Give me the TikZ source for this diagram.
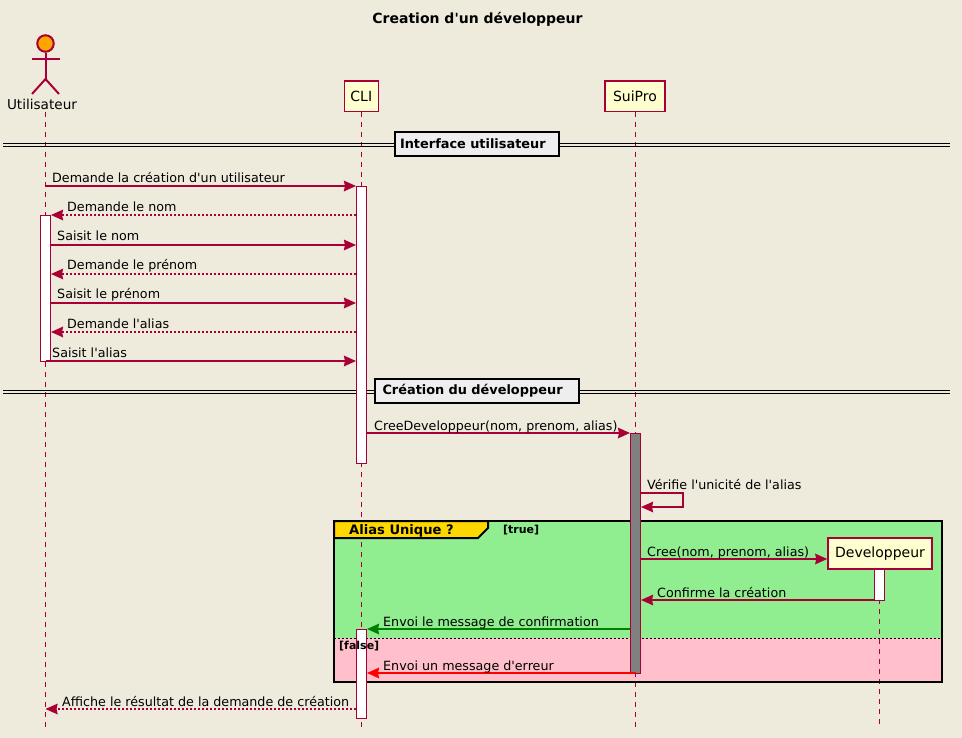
\documentclass[tikz,border=0pt]{standalone}
\usepackage{fontspec}
\setmainfont{DejaVu Sans}
\usetikzlibrary{arrows.meta}
\definecolor{bgc}{HTML}{EEEBDC}
\definecolor{umlred}{HTML}{A80036}
\definecolor{notec}{HTML}{FEFECE}
\definecolor{grpgreen}{HTML}{90EE90}
\definecolor{grppink}{HTML}{FFC0CB}
\definecolor{gold}{HTML}{FFD700}
\definecolor{divfill}{HTML}{EEEEEE}
\definecolor{actorfill}{HTML}{FFA500}
\definecolor{greenmsg}{HTML}{008000}
\tikzset{
  tip/.tip={Stealth[length=12pt,width=10.5pt,inset=1pt]},
  partic/.style={draw=umlred,fill=notec,line width=1.5pt,inner sep=0pt,font=\fontsize{14}{16}\selectfont,text=black},
  lifeline/.style={draw=umlred,line width=1pt,dash pattern=on 5pt off 5pt},
  bar/.style={draw=umlred,fill=white,line width=1pt},
  graybar/.style={draw=umlred,fill=gray,line width=1pt},
  msg/.style={draw=umlred,line width=2pt,-tip},
  back/.style={draw=umlred,line width=2pt,dash pattern=on 2pt off 2pt,-tip},
  lbl/.style={anchor=base west,inner sep=0pt,yshift=-1pt,font=\fontsize{12.7}{14}\selectfont,text=black},
  divbox/.style={draw=black,fill=divfill,line width=2pt,inner ysep=0pt,align=left,font=\bfseries\fontsize{12.9}{14}\selectfont},
  divline/.style={draw=black,line width=1.2pt},
  actorline/.style={draw=umlred,line width=2pt},
  grplabel/.style={anchor=base west,inner sep=0pt,font=\bfseries\fontsize{11}{12}\selectfont,text=black},
}
\begin{document}
\begin{tikzpicture}[x=1pt,y=-1pt]
\useasboundingbox (0,0) rectangle (962,738);
\fill[bgc] (0,0) rectangle (962,738);
% title
\node[font=\bfseries\fontsize{14}{16}\selectfont] (title) at (477.5,19.5) {Creation d\textquotesingle un développeur};
% group background
\fill[grpgreen] (334,521) rectangle (942,638.3);
\fill[grppink] (334,638.3) rectangle (942,682);
\draw[black,line width=1pt,dash pattern=on 2pt off 2pt] (334,638.5) -- (942,638.5);
% lifeline anchors
\coordinate (uTop) at (45.5,112);
\coordinate (uEnd) at (45.5,727);
\coordinate (cTop) at (361.5,112);
\coordinate (cEnd) at (361.5,727);
\coordinate (sTop) at (635.5,112);
\coordinate (sEnd) at (635.5,727);
\coordinate (dTop) at (879.5,569);
\coordinate (dEnd) at (879.5,724);
\draw[lifeline] (uTop) -- (uEnd);
\draw[lifeline] (cTop) -- (cEnd);
\draw[lifeline] (sTop) -- (sEnd);
\draw[lifeline] (dTop) -- (dEnd);
% group frame and tab
\draw[black,line width=2pt,fill=gold] (334,521) -- (488,521) -- (488,528) -- (478,538) -- (334,538) -- cycle;
\draw[black,line width=2pt] (334,521) rectangle (942,682);
\node[anchor=base west,inner sep=0pt,font=\bfseries\fontsize{13.1}{14}\selectfont] (gtitle) at (349,534.5) {Alias Unique ?};
\node[grplabel] (gtrue) at (503,533) {[true]};
% dividers
\foreach \yy in {143.6,146.4}{\draw[divline] (3,\yy) -- (950,\yy);}
\foreach \yy in {390.6,393.4}{\draw[divline] (3,\yy) -- (950,\yy);}
\node[divbox,inner xsep=5pt,text width=154pt,minimum height=24pt] (div1) at (477,144) {Interface utilisateur};
\node[divbox,inner xsep=7.5pt,text width=189pt,minimum height=24pt] (div2) at (477,391) {Création du développeur};
% activation bars
\node[bar,minimum width=10pt,minimum height=277pt,inner sep=0pt] (aC1) at (361.5,325) {};
\node[bar,minimum width=10pt,minimum height=146pt,inner sep=0pt] (aU) at (45.5,288.5) {};
\node[graybar,minimum width=10pt,minimum height=240pt,inner sep=0pt] (aS) at (635.5,553.5) {};
\node[bar,minimum width=10pt,minimum height=31pt,inner sep=0pt] (aD) at (879.5,585) {};
\node[bar,minimum width=10pt,minimum height=89pt,inner sep=0pt] (aC2) at (361.5,674) {};
\node[grplabel] (gfalse) at (339,649) {[false]};
% actor
\node[circle,draw=umlred,fill=actorfill,line width=2pt,minimum size=16.5pt,inner sep=0pt] (uHead) at (45.5,43.5) {};
\coordinate (uHip) at (45.5,79);
\coordinate (uArmL) at (31.5,59);
\coordinate (uArmR) at (59.5,59);
\coordinate (uLegL) at (32,94);
\coordinate (uLegR) at (59,94);
\draw[actorline] (uHead.south) -- (uHip);
\draw[actorline] (uArmL) -- (uArmR);
\draw[actorline] (uLegL) -- (uHip) -- (uLegR);
\node[font=\fontsize{13.6}{15}\selectfont] (uName) at (42,104) {Utilisateur};
% participants
\node[partic,minimum width=34pt,minimum height=30.5pt] (cli) at (361.3,96.3) {CLI};
\node[partic,minimum width=60pt,minimum height=30.5pt] (sui) at (635,96.3) {SuiPro};
\node[partic,minimum width=104pt,minimum height=31pt] (dev) at (880,553.5) {Developpeur};
% messages
\draw[msg] (uTop |- 0,186) -- (aC1.west |- 0,186);
\node[lbl] (m1) at (52,182) {Demande la création d\textquotesingle un utilisateur};
\draw[back] (aC1.west |- 0,215) -- (aU.east |- 0,215);
\node[lbl] (m2) at (67,211) {Demande le nom};
\draw[msg] (aU.east |- 0,245) -- (aC1.west |- 0,245);
\node[lbl] (m3) at (57,240) {Saisit le nom};
\draw[back] (aC1.west |- 0,274) -- (aU.east |- 0,274);
\node[lbl] (m4) at (67,269) {Demande le prénom};
\draw[msg] (aU.east |- 0,303) -- (aC1.west |- 0,303);
\node[lbl] (m5) at (57,298) {Saisit le prénom};
\draw[back] (aC1.west |- 0,332) -- (aU.east |- 0,332);
\node[lbl] (m6) at (67,327) {Demande l\textquotesingle alias};
\draw[msg] (uTop |- 0,361) -- (aC1.west |- 0,361);
\node[lbl] (m7) at (52,356) {Saisit l\textquotesingle alias};
\draw[msg] (aC1.east |- 0,433) -- (aS.west |- 0,433);
\node[lbl] (m8) at (374,429) {CreeDeveloppeur(nom, prenom, alias)};
\coordinate (selfA) at (683,493);
\coordinate (selfB) at (683,507);
\draw[msg] (aS.east |- selfA) -- (selfA) -- (selfB) -- (aS.east |- selfB);
\node[lbl] (m9) at (647,488) {Vérifie l\textquotesingle unicité de l\textquotesingle alias};
\draw[msg] (aS.east |- 0,559) -- (dev.west |- 0,559);
\node[lbl] (m10) at (647,555) {Cree(nom, prenom, alias)};
\draw[msg] (aD.west |- 0,600) -- (aS.east |- 0,600);
\node[lbl] (m11) at (657,596) {Confirme la création};
\draw[msg,draw=greenmsg] (aS.west |- 0,629) -- (aC2.east |- 0,629);
\node[lbl] (m12) at (383,625) {Envoi le message de confirmation};
\draw[msg,draw=red] (sTop |- 0,673) -- (aC2.east |- 0,673);
\node[lbl] (m13) at (383,669) {Envoi un message d\textquotesingle erreur};
\draw[back] (aC2.west |- 0,709) -- (uEnd |- 0,709);
\node[lbl] (m14) at (62,705) {Affiche le résultat de la demande de création};
\end{tikzpicture}
\end{document}
